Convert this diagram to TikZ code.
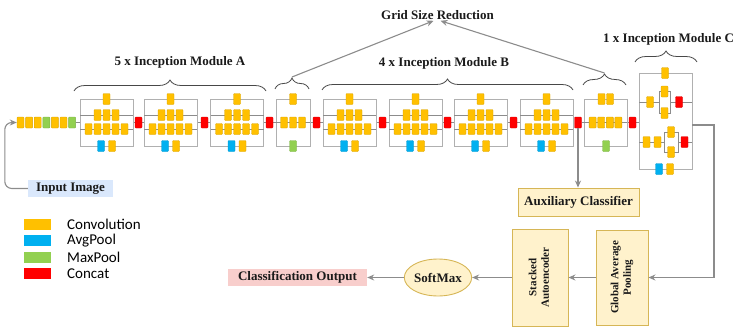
\documentclass[tikz,border=0pt]{standalone}
\usepackage{fontspec}
\setmainfont{Liberation Serif}
\newfontfamily\legendfont{Carlito}
\usepackage{tikz}
\usetikzlibrary{arrows.meta,shapes.geometric,decorations.pathreplacing,backgrounds}
\definecolor{ConvY}{HTML}{FFC000}
\definecolor{AvgB}{HTML}{00B0F0}
\definecolor{MaxG}{HTML}{92D050}
\definecolor{CatR}{HTML}{FF0000}
\definecolor{Wire}{HTML}{8C8C8C}
\definecolor{Frame}{HTML}{B0B0B0}
\definecolor{Sand}{HTML}{FFF2CC}
\definecolor{SandLine}{HTML}{D6B656}
\definecolor{Rose}{HTML}{F8CECC}
\definecolor{Sky}{HTML}{DAE8FC}
\definecolor{Ink}{HTML}{1A1A1A}

\begin{document}
\begin{tikzpicture}[x=1pt,y=-1pt,
  blk/.style={inner sep=0pt,minimum width=7pt,minimum height=11pt,line width=.4pt,rounded corners=.8pt},
  conv/.style={blk,fill=ConvY,draw=ConvY!85!black},
  avgp/.style={blk,fill=AvgB,draw=AvgB!85!black},
  maxp/.style={blk,fill=MaxG,draw=MaxG!85!black},
  cat/.style={blk,fill=CatR,draw=CatR!85!black},
  frame/.style={draw=Frame,line width=.9pt},
  row/.style={draw=Wire,line width=.9pt},
  conn/.style={draw=Wire,line width=1.1pt,-{Stealth[length=7pt,width=6pt]}},
  lbl/.style={font=\fontsize{13}{15}\selectfont\bfseries,text=Ink,inner sep=1pt},
  tag/.style={lbl,inner sep=0pt,minimum height=17pt},
  proc/.style={lbl,draw=SandLine,fill=Sand,line width=.9pt,inner sep=2pt},
  brc/.style={draw=Ink!80,line width=.8pt,decorate,decoration={brace,amplitude=11pt}},
  legsq/.style={minimum width=27pt,minimum height=11pt,draw=none,rounded corners=0pt},
  legtx/.style={anchor=west,font=\legendfont\fontsize{15}{17}\selectfont,inner sep=0pt}]

\useasboundingbox (0,0) rectangle (737,332);

% input stem
\foreach \i/\s in {1/conv,2/conv,3/conv,4/maxp,5/conv,6/conv,7/maxp}
  \node[\s] (in\i) at (11.9+8.6*\i,122.5) {};

% inception modules A and B
\foreach \cx/\nm in {106.5/a1,170.5/a2,237/a3,349.5/b1,415.5/b2,480.5/b3,546.5/b4}{
  \draw[frame] (\cx-26.5,99) rectangle (\cx+26.5,146);
  \draw[row] (\cx-26.5,115) -- (\cx+26.5,115) (\cx-26.5,129) -- (\cx+26.5,129);
  \coordinate (\nm-in) at (\cx-26.5,122.5);
  \coordinate (\nm-out) at (\cx+26.5,122.5);
  \node[conv] (\nm-t) at (\cx,99) {};
  \foreach \j in {1,2,3} \node[conv] (\nm-m\j) at (\cx+9*\j-18,115) {};
  \foreach \j in {1,...,5} \node[conv] (\nm-l\j) at (\cx+9*\j-27,129) {};
  \node[avgp] (\nm-p) at (\cx-5.5,146) {};
  \node[conv] (\nm-q) at (\cx+5.5,146) {};
}

% grid size reduction 1
\draw[frame] (276,99) rectangle (310,146);
\coordinate (r1-in) at (276,122.5);
\coordinate (r1-out) at (310,122.5);
\draw[row] (r1-in) -- (r1-out);
\node[conv] (r1-t) at (293,99) {};
\foreach \j in {1,2,3} \node[conv] (r1-m\j) at (275+9*\j,122.5) {};
\node[maxp] (r1-p) at (293,146) {};

% grid size reduction 2
\draw[frame] (584,99) rectangle (627,146);
\coordinate (r2-in) at (584,122.5);
\coordinate (r2-out) at (627,122.5);
\draw[row] (r2-in) -- (r2-out);
\node[conv] (r2-t1) at (601.5,99) {};
\node[conv] (r2-t2) at (610,99) {};
\foreach \j in {1,...,4} \node[conv] (r2-m\j) at (584+8.6*\j,122.5) {};
\node[maxp] (r2-p) at (606,146) {};

% inception module C
\draw[frame] (639,73) rectangle (692,169);
\coordinate (mc-in) at (639,122.5);
\coordinate (mc-out) at (692,125);
\draw[row] (639,102) -- (659,102) (670,102) -- (692,102);
\draw[row] (659,91.5) rectangle (670,113);
\draw[row] (639,142) -- (664,142) (678,142) -- (692,142);
\draw[row] (664,132) rectangle (678,152);
\node[conv] (mc-t) at (665,73) {};
\node[conv] (mc-a1) at (650,102) {};
\node[conv] (mc-a2) at (664.5,91.5) {};
\node[conv] (mc-a3) at (664.5,113) {};
\node[cat] (mc-a4) at (679,102) {};
\node[conv] (mc-b1) at (646.5,142) {};
\node[conv] (mc-b2) at (657.5,142) {};
\node[conv] (mc-b3) at (671,132) {};
\node[conv] (mc-b4) at (671,152) {};
\node[cat] (mc-b5) at (684.5,142) {};
\node[avgp] (mc-p) at (659,169) {};
\node[conv] (mc-q) at (670,169) {};

% concat between blocks
\foreach \x [count=\k] in {138.5,204.5,269.5,316.5,382.5,447.5,513.5,578,632.5}
  \node[cat] (c\k) at (\x,122.5) {};

\begin{scope}[on background layer]
\foreach \u/\v in {in7.east/a1-in,a1-out/c1.west,c1.east/a2-in,a2-out/c2.west,c2.east/a3-in,
  a3-out/c3.west,c3.east/r1-in,r1-out/c4.west,c4.east/b1-in,b1-out/c5.west,c5.east/b2-in,
  b2-out/c6.west,c6.east/b3-in,b3-out/c7.west,c7.east/b4-in,b4-out/c8.west,c8.east/r2-in,
  r2-out/c9.west,c9.east/mc-in}
  \draw[row] (\u) -- (\v);
\end{scope}

% braces and labels
\draw[brc] (74,91) -- (266,91);
\draw[brc] (322,90) -- (573,90);
\draw[brc] (275,89) -- (309,89);
\draw[brc] (583,85) -- (626,85);
\draw[brc] (635,62) -- (697,62);
\coordinate (r1tip) at (292,77);
\coordinate (r2tip) at (604.5,73);
\node[lbl] (gsr) at (437.5,15) {Grid Size Reduction};
\node[lbl] (labA) at (180,62) {5 x Inception Module A};
\node[lbl] (labB) at (444,63) {4 x Inception Module B};
\node[lbl,anchor=west] (labC) at (602,39) {1 x Inception Module C};
\draw[conn] (r1tip) -- ([xshift=-4pt]gsr.south);
\draw[conn] (r2tip) -- ([xshift=3pt]gsr.south);

% heads
\node[tag,fill=Sky,minimum width=85pt] (inimg) at (70.5,188.5) {Input Image};
\node[proc,minimum width=121pt,minimum height=28pt] (aux) at (578.5,202) {Auxiliary Classifier};
\node[proc,minimum width=52pt,minimum height=95pt,font=\fontsize{11}{12.5}\selectfont\bfseries] (gap) at (622,277.5)
  {\rotatebox{90}{\begin{tabular}{@{}c@{}}Global Average\\Pooling\end{tabular}}};
\node[proc,minimum width=56pt,minimum height=97pt,font=\fontsize{11}{12.5}\selectfont\bfseries] (sae) at (540,277.5)
  {\rotatebox{90}{\begin{tabular}{@{}c@{}}Stacked\\Autoencoder\end{tabular}}};
\node[proc,ellipse,minimum width=62pt,minimum height=37pt,inner sep=0pt] (smax) at (438,277.5) {SoftMax};
\node[tag,fill=Rose,minimum width=139pt] (clsout) at (297.5,277.5) {Classification Output};

\draw[conn,rounded corners=7pt] (inimg.west) -- ++(-23,0) |- (in1.west);
\draw[conn] (c8.south) -- (c8.south |- aux.north);
\draw[conn] (mc-out) -- ++(22,0) |- (gap.east);
\draw[conn] (gap.west) -- (sae.east);
\draw[conn] (sae.west) -- (smax.east);
\draw[conn] (smax.west) -- (clsout.east);

% legend
\foreach \s/\lab/\y in {conv/Convolution/224.5,avgp/AvgPool/240.5,maxp/MaxPool/257.5,cat/Concat/273.5}{
  \node[\s,legsq] (key-\s) at (37.5,\y) {};
  \node[legtx] (txt-\s) at (67,\y) {\lab};
}
\end{tikzpicture}
\end{document}
